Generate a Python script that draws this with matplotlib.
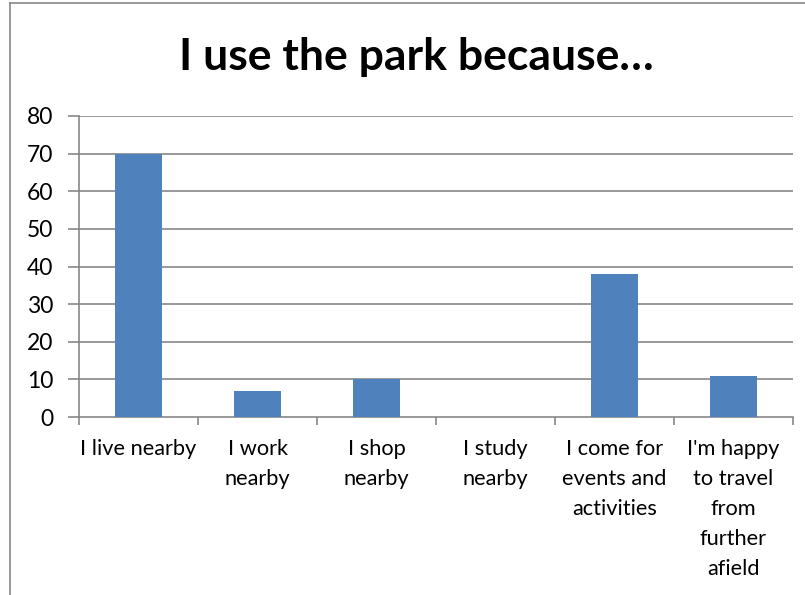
import matplotlib
matplotlib.use("Agg")
import matplotlib.pyplot as plt
from matplotlib.lines import Line2D

categories = ["I live nearby", "I work\nnearby", "I shop\nnearby", "I study\nnearby",
              "I come for\nevents and\nactivities",
              "I'm happy\nto travel\nfrom\nfurther\nafield"]
values = [70, 7, 10, 0, 38, 11]
yticks = [0, 10, 20, 30, 40, 50, 60, 70, 80]

plt.rcParams['font.family'] = ['Lato', 'DejaVu Sans']

W, H = 805, 595
fig = plt.figure(figsize=(W / 100, H / 100), dpi=100)
ax = fig.add_axes([79 / W, 1 - 417 / H, (793 - 79) / W, (417 - 116) / H])

grid_c = "#878787"
bar_c = "#4F81BD"

x = list(range(len(categories)))
ax.bar(x, values, width=0.4, color=bar_c, zorder=3)

ax.set_xlim(-0.5, len(categories) - 0.5)
ax.set_ylim(0, 80)
ax.set_yticks(yticks)
ax.set_yticklabels([str(t) for t in yticks], fontsize=16.5)
for t in yticks[1:]:
    ax.axhline(t, color=grid_c, lw=1.2, zorder=1)

ax.tick_params(axis='y', length=8, width=1.2, color=grid_c, pad=10.5)
ax.set_xticks(x)
ax.set_xticklabels(categories, fontsize=15.7, linespacing=1.62)
ax.tick_params(axis='x', length=0, pad=16)
# category boundary ticks
ax.set_xticks([i - 0.5 for i in range(len(categories) + 1)], minor=True)
ax.tick_params(axis='x', which='minor', length=6, width=1.2, color=grid_c, direction='out')

for side in ['top', 'right']:
    ax.spines[side].set_visible(False)
for side in ['left', 'bottom']:
    ax.spines[side].set_color(grid_c)
    ax.spines[side].set_linewidth(1.2)

fig.text((178 + 655) / 2 / W, 1 - 57 / H, "I use the park because…",
         ha='center', va='center', fontsize=32, fontweight='bold')

# chart area border
fig.add_artist(Line2D([9.5 / W, 9.5 / W], [0, 1 - 3 / H], color=grid_c, lw=1.2,
                      transform=fig.transFigure))
fig.add_artist(Line2D([9.5 / W, 1], [1 - 3 / H, 1 - 3 / H], color=grid_c, lw=1.2,
                      transform=fig.transFigure))

fig.savefig("out.png", dpi=100)
